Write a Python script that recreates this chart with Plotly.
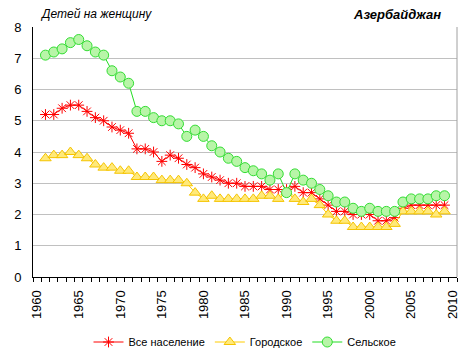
import plotly.graph_objects as go

years = list(range(1961, 2010))
total = [5.2, 5.2, 5.4, 5.5, 5.5, 5.3, 5.1, 5.0, 4.8, 4.7,
         4.6, 4.1, 4.1, 4.0, 3.7, 3.9, 3.8, 3.6, 3.5, 3.3,
         3.2, 3.1, 3.0, 3.0, 2.9, 2.9, 2.9, 2.8, 2.8, 2.8,
         2.9, 2.7, 2.7, 2.5, 2.3, 2.1, 2.1, 2.0, 2.0, 2.0,
         1.8, 1.8, 1.9, 2.2, 2.3, 2.3, 2.3, 2.3, 2.3]
urban = [3.8, 3.9, 3.9, 4.0, 3.9, 3.8, 3.6, 3.5, 3.5, 3.4,
         3.4, 3.2, 3.2, 3.2, 3.1, 3.1, 3.1, 3.0, 2.7, 2.5,
         2.6, 2.5, 2.5, 2.5, 2.5, 2.5, 2.6, 2.6, 2.5, 2.7,
         2.5, 2.4, 2.5, 2.3, 2.0, 1.8, 1.8, 1.6, 1.6, 1.6,
         1.6, 1.6, 1.7, 2.1, 2.1, 2.1, 2.1, 2.0, 2.1]
rural = [7.1, 7.2, 7.3, 7.5, 7.6, 7.4, 7.2, 7.1, 6.6, 6.4,
         6.2, 5.3, 5.3, 5.1, 5.0, 5.0, 4.9, 4.5, 4.7, 4.5,
         4.2, 4.0, 3.8, 3.7, 3.5, 3.4, 3.3, 3.1, 3.3, 2.7,
         3.3, 3.1, 3.0, 2.8, 2.6, 2.4, 2.4, 2.2, 2.1, 2.2,
         2.1, 2.1, 2.1, 2.4, 2.5, 2.5, 2.5, 2.6, 2.6]
x_tick_vals = list(range(1960, 2011, 5))
y_tick_vals = list(range(0, 9))

FONT = "Liberation Sans, Arial, sans-serif"

fig = go.Figure()
fig.add_trace(go.Scatter(
    x=years, y=total, name="Все население", mode="lines+markers",
    line=dict(color="#FF0000", width=1),
    marker=dict(symbol="asterisk-open", size=9, color="#FF0000",
                line=dict(color="#FF0000", width=1))))
fig.add_trace(go.Scatter(
    x=years, y=urban, name="Городское", mode="lines+markers",
    line=dict(color="#FFCC00", width=1),
    marker=dict(symbol="triangle-up", size=10, color="#FFE97A",
                line=dict(color="#F5C400", width=1))))
fig.add_trace(go.Scatter(
    x=years, y=rural, name="Сельское", mode="lines+markers",
    line=dict(color="#22DD22", width=1),
    marker=dict(symbol="circle", size=10, color="#B8F5A8",
                line=dict(color="#33DD33", width=1))))

# page body has an 8px default margin: figure sized/offset to compensate
fig.update_layout(
    width=463, height=351,
    margin=dict(l=25, r=14, t=19, b=82, autoexpand=False),
    paper_bgcolor="white", plot_bgcolor="white",
    font=dict(family=FONT, size=12, color="black"),
    showlegend=True,
    legend=dict(orientation="h", x=0.5, xanchor="center", y=-0.26,
                yanchor="middle", font=dict(size=11), itemwidth=30,
                tracegroupgap=0, bgcolor="rgba(0,0,0,0)"),
    xaxis=dict(range=[1959.5, 2010.5], tickmode="array",
               tickvals=x_tick_vals, ticktext=[str(v) for v in x_tick_vals],
               tickangle=-90, ticks="", showgrid=False, zeroline=False,
               showline=True, linecolor="black", linewidth=1,
               automargin=False, ticklabelstandoff=7,
               tickfont=dict(size=13, family=FONT),
               minor=dict(ticks="outside", tick0=1959.5, dtick=1,
                          ticklen=4, tickcolor="black", showgrid=False)),
    yaxis=dict(range=[0, 8], tickmode="array", tickvals=y_tick_vals,
               showgrid=True, gridcolor="#C0C0C0", gridwidth=1,
               zeroline=False, showline=True, linecolor="black", linewidth=1,
               ticks="", ticklabelstandoff=8, automargin=False,
               tickfont=dict(size=13, family=FONT)),
)

fig.add_shape(type="line", xref="paper", yref="paper", x0=1, x1=1, y0=0, y1=1,
              line=dict(color="#A0A0A0", width=1))

fig.add_annotation(text="<i>Детей на женщину</i>", xref="paper", yref="paper",
                   x=0.012, y=1.05, xanchor="left", yanchor="middle",
                   showarrow=False, font=dict(size=12, family=FONT))
fig.add_annotation(text="<b><i>Азербайджан</i></b>", xref="paper", yref="paper",
                   x=0.967, y=1.05, xanchor="right", yanchor="middle",
                   showarrow=False, font=dict(size=13, family=FONT))

fig.write_html("out.html")
